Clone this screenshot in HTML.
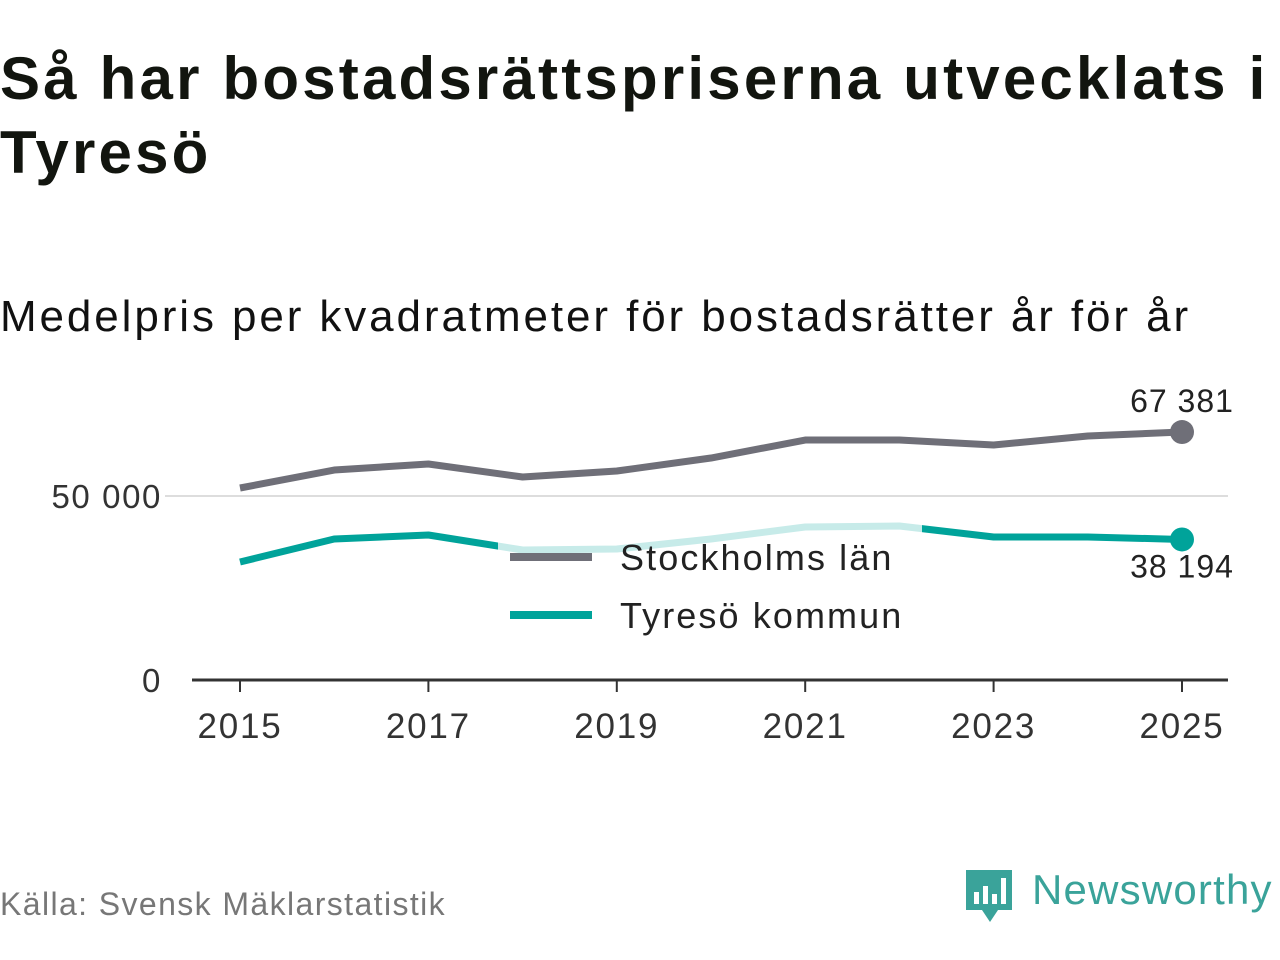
<!DOCTYPE html>
<html><head><meta charset="utf-8"><style>
body{margin:0;width:1280px;height:960px;background:#fff;font-family:"Liberation Sans",sans-serif;overflow:hidden;position:relative;color:#111}
#title{position:absolute;left:0;top:42px;font-size:60px;font-weight:bold;line-height:74px;color:#12150f;letter-spacing:3.2px;white-space:nowrap}
#sub{position:absolute;left:0;top:292px;font-size:44px;color:#111;letter-spacing:2.9px;white-space:nowrap}
#src{position:absolute;left:0;top:886px;font-size:32px;color:#777;letter-spacing:1.4px}
#logo{position:absolute;left:964px;top:866px}
</style></head><body>
<div id="title">Så har bostadsrättspriserna utvecklats i<br>Tyresö</div>
<div id="sub">Medelpris per kvadratmeter för bostadsrätter år för år</div>
<svg id="chart" width="1280" height="960" style="position:absolute;left:0;top:0"></svg>
<div id="src">Källa: Svensk Mäklarstatistik</div>
<div id="logo">
<svg width="316" height="62"><path d="M2 4 h46 v40 h-14 l-8 12 l-8 -12 h-16 z" fill="#3aa39a"/>
<rect x="10" y="26" width="5" height="12" fill="#fff"/><rect x="19" y="20" width="5" height="18" fill="#fff"/><rect x="28" y="28" width="5" height="10" fill="#fff"/><rect x="37" y="12" width="5" height="26" fill="#fff"/>
<text x="68" y="38" font-size="42" font-family="Liberation Sans, sans-serif" fill="#3aa39a" letter-spacing="1.2">Newsworthy</text></svg></div>
<script>
const years=[2015,2016,2017,2018,2019,2020,2021,2022,2023,2024,2025];
const stockholm=[52174,57065,58696,55163,56793,60326,65217,65217,63859,66304,67381];
const tyreso=[32065,38315,39402,35326,35598,38315,41576,41848,38859,38859,38194];
const yTicks=[0,50000];
const yTickLabels=["0","50 000"];
const xTicks=[2015,2017,2019,2021,2023,2025];
const svg=document.getElementById('chart');
const NS='http://www.w3.org/2000/svg';
const x=v=>240+(v-2015)*94.2;
const y=v=>680-v/50000*184;
function mk(t,a,p){const e=document.createElementNS(NS,t);for(const k in a)e.setAttribute(k,a[k]);(p||svg).appendChild(e);return e;}
yTicks.forEach((t,i)=>{
 if(t>0){const g=mk('line',{x1:165,x2:1228,y1:y(t),y2:y(t),stroke:'#ddd','stroke-width':2});
 
 }
 const l=mk('text',{x:162,y:y(t)+12,'text-anchor':'end','font-size':33,fill:'#333','letter-spacing':1.6});l.textContent=yTickLabels[i];
 
 
});
const ax=mk('line',{x1:192,x2:1228,y1:680,y2:680,stroke:'#333','stroke-width':3});


xTicks.forEach(t=>{
 mk('line',{x1:x(t),x2:x(t),y1:680,y2:692,stroke:'#333','stroke-width':2});
 const l=mk('text',{x:x(t),y:738,'text-anchor':'middle','font-size':35,fill:'#333','letter-spacing':1.8});l.textContent=t;
 
 
});
function series(vals,col,name){
 const p=mk('polyline',{points:vals.map((v,i)=>x(years[i])+','+y(v)).join(' '),fill:'none',stroke:col,'stroke-width':7,'stroke-linejoin':'round'});
 
 
 const c=mk('circle',{cx:x(years[years.length-1]),cy:y(vals[vals.length-1]),r:12,fill:col});
 
 
}
series(stockholm,'#6f6f78','stockholm');
series(tyreso,'#00a39a','tyreso');
function fmt(v){return String(v).replace(/\B(?=(\d{3})+(?!\d))/g,' ');}
let a=mk('text',{x:x(2025),y:y(stockholm[10])-20,'text-anchor':'middle','font-size':32,fill:'#222','letter-spacing':1});a.textContent=fmt(stockholm[10]);


a=mk('text',{x:x(2025),y:y(tyreso[10])+38,'text-anchor':'middle','font-size':32,fill:'#222','letter-spacing':1});a.textContent=fmt(tyreso[10]);


const lb=mk('rect',{x:498,y:522,width:424,height:124,fill:'#fff','fill-opacity':0.78});


[['Stockholms län','#6f6f78',557],['Tyresö kommun','#00a39a',615]].forEach(([n,c,yy])=>{
 const g=mk('g',{});
 
 
 mk('line',{x1:510,x2:592,y1:yy,y2:yy,stroke:c,'stroke-width':8},g);
 const t=mk('text',{x:620,y:yy+13,'font-size':36,fill:'#222','letter-spacing':2.1},g);t.textContent=n;
});
</script>
</body></html>
